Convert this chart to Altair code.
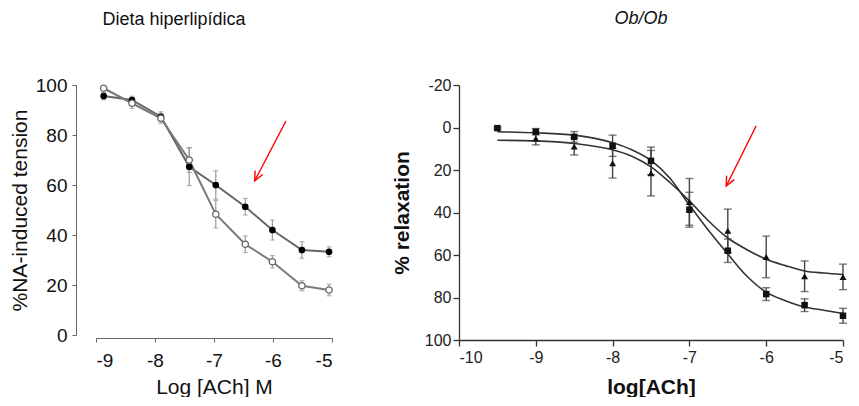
import altair as alt
import pandas as pd

FONT = "Liberation Sans"

# ---------------- Left panel: Dieta hiperlipídica ----------------
left_x = [-8.87, -8.39, -7.90, -7.42, -6.97, -6.47, -6.01, -5.51, -5.05]
left_filled = [95.6, 94.0, 87.3, 67.3, 60.0, 51.3, 42.0, 34.0, 33.3]
left_filled_err = [1.5, 1.5, 2.0, 7.5, 5.7, 3.3, 4.0, 3.3, 2.0]
left_open = [98.7, 92.7, 86.7, 70.0, 48.3, 36.3, 29.3, 19.7, 18.0]
left_open_err = [1.0, 2.0, 2.0, 5.0, 5.5, 3.3, 2.5, 2.0, 2.3]
left_xticks = [-9, -8, -7, -6, -5]
left_yticks = [0, 20, 40, 60, 80, 100]
left_arrow_x = [-5.78, -6.31]   # tail, head
left_arrow_y = [85.6, 61.7]

# ---------------- Right panel: Ob/Ob ----------------
right_x = [-9.5, -9, -8.5, -8, -7.5, -7, -6.5, -6, -5.5, -5]
right_sq = [0.3, 2.0, 4.4, 8.6, 15.7, 38.7, 58.0, 78.4, 83.6, 88.6]
right_sq_err = [0.5, 1.5, 2.5, 5.0, 6.5, 8.2, 5.5, 3.0, 3.0, 3.5]
right_tri_x = [-9, -8.5, -8, -7.5, -7, -6.5, -6, -5.5, -5]
right_tri = [5.2, 8.9, 16.8, 21.5, 35.0, 48.6, 60.9, 70.0, 70.3]
right_tri_err = [3.0, 4.0, 7.0, 10.7, 11.0, 10.2, 9.8, 7.2, 6.0]
curve_x = [-9.5, -9, -8.5, -8, -7.75, -7.5, -7.25, -7, -6.75, -6.5, -6.25, -6, -5.75, -5.5, -5.25, -5]
curve_sq = [2.0, 2.5, 3.6, 7.2, 10.5, 15.5, 24.0, 36.5, 48.5, 59.5, 70.0, 77.5, 81.5, 84.5, 86.0, 87.5]
curve_tri = [6.0, 6.3, 7.5, 10.5, 13.5, 18.5, 26.0, 34.5, 44.0, 52.0, 57.5, 62.0, 65.0, 67.5, 68.5, 69.2]
right_xticks = [-10, -9, -8, -7, -6, -5]
right_yticks = [-20, 0, 20, 40, 60, 80, 100]
right_arrow_x = [-6.13, -6.52]
right_arrow_y = [-0.85, 27.5]

ARROW_HEAD = "M -0.42 -0.9 L 0 0 L 0.42 -0.9"


def err_df(xs, ys, es):
    return pd.DataFrame({"x": xs, "y": ys, "lo": [a - b for a, b in zip(ys, es)],
                         "hi": [a + b for a, b in zip(ys, es)]})


# ---- left chart scales / axes ----
lxs = alt.Scale(domain=[-9, -5], nice=False, zero=False)
lys = alt.Scale(domain=[0, 100], nice=False, zero=False)
lxaxis = alt.Axis(values=left_xticks, offset=3, title="Log [ACh] M", labelExpr="'' + datum.value",
                  labelFontSize=19, titleFontSize=21, titleFontWeight="normal", grid=False,
                  domainColor="#666", tickColor="#666", tickSize=4, labelPadding=9, titlePadding=6,
                  labelColor="#111", titleColor="#111")
lyaxis = alt.Axis(values=left_yticks, offset=20, title="%NA-induced tension",
                  labelFontSize=19, titleFontSize=21, titleFontWeight="normal", grid=False,
                  domainColor="#666", tickColor="#666", tickSize=4, labelPadding=5, titlePadding=5,
                  labelColor="#111", titleColor="#111")


def LX(f="x"):
    return alt.X(f + ":Q", scale=lxs, axis=lxaxis)


def LY(f):
    return alt.Y(f + ":Q", scale=lys, axis=lyaxis)


# ---- right chart scales / axes ----
rxs = alt.Scale(domain=[-10, -5], nice=False, zero=False)
rys = alt.Scale(domain=[-20, 100], nice=False, zero=False, reverse=True)
rxaxis = alt.Axis(values=right_xticks, title="log[ACh]", labelExpr="'' + datum.value",
                  labelFontSize=16, titleFontSize=21, titleFontWeight="bold", grid=False,
                  domainColor="#333", tickColor="#333", tickSize=6, domainWidth=1.3, tickWidth=1.3,
                  labelPadding=3, titlePadding=11, labelColor="#222", titleColor="#111")
ryaxis = alt.Axis(values=right_yticks, title="% relaxation", labelExpr="'' + datum.value",
                  labelFontSize=16, titleFontSize=21, titleFontWeight="bold", grid=False,
                  domainColor="#333", tickColor="#333", tickSize=6, domainWidth=1.3, tickWidth=1.3,
                  labelPadding=2, titlePadding=12, labelColor="#222", titleColor="#111")


def RX(f="x"):
    return alt.X(f + ":Q", scale=rxs, axis=rxaxis)


def RY(f):
    return alt.Y(f + ":Q", scale=rys, axis=ryaxis)


def arrow_layers(xs, ys, X, Y, angle):
    seg = pd.DataFrame({"x": [xs[0]], "y": [ys[0]], "x2": [xs[1]], "y2": [ys[1]]})
    head = pd.DataFrame({"x": [xs[1]], "y": [ys[1]]})
    line = alt.Chart(seg).mark_rule(color="red", strokeWidth=1.4).encode(
        x=X("x"), y=Y("y"), x2="x2:Q", y2="y2:Q")
    tip = alt.Chart(head).mark_point(shape=ARROW_HEAD, size=420, color="red", filled=False,
                                      strokeWidth=1.4, angle=angle, opacity=1).encode(
        x=X("x"), y=Y("y"))
    return [line, tip]


# ---- left chart ----
df_lf = err_df(left_x, left_filled, left_filled_err)
df_lo = err_df(left_x, left_open, left_open_err)

l_err_f = alt.Chart(df_lf).mark_errorbar(ticks={"size": 5}, color="#999", thickness=1.2).encode(
    x=LX(), y=LY("lo"), y2="hi:Q")
l_err_o = alt.Chart(df_lo).mark_errorbar(ticks={"size": 5}, color="#999", thickness=1.2).encode(
    x=LX(), y=LY("lo"), y2="hi:Q")
l_line_f = alt.Chart(df_lf).mark_line(color="#666", strokeWidth=2).encode(x=LX(), y=LY("y"))
l_line_o = alt.Chart(df_lo).mark_line(color="#7a7a7a", strokeWidth=2).encode(x=LX(), y=LY("y"))
l_pt_f = alt.Chart(df_lf).mark_point(shape="circle", filled=True, color="black", size=45,
                                     opacity=1).encode(x=LX(), y=LY("y"))
l_pt_o = alt.Chart(df_lo).mark_point(shape="circle", filled=True, fill="white", stroke="#666",
                                     strokeWidth=1.3, size=40, opacity=1).encode(x=LX(), y=LY("y"))

left = alt.layer(l_err_f, l_err_o, l_line_f, l_line_o, l_pt_f, l_pt_o,
                 *arrow_layers(left_arrow_x, left_arrow_y, LX, LY, 27.4)).properties(
    width=236, height=250,
    title=alt.Title("Dieta hiperlipídica", fontSize=18, font=FONT, fontWeight="normal",
                    anchor="middle", frame="group", dx=-40, offset=47, color="#111"))

# ---- right chart ----
df_rs = err_df(right_x, right_sq, right_sq_err)
df_rt = err_df(right_tri_x, right_tri, right_tri_err)
df_curve = pd.DataFrame({"x": curve_x, "sq": curve_sq, "tri": curve_tri})

r_err_s = alt.Chart(df_rs).mark_errorbar(ticks={"size": 8}, color="#444", thickness=1.4).encode(
    x=RX(), y=RY("lo"), y2="hi:Q")
r_err_t = alt.Chart(df_rt).mark_errorbar(ticks={"size": 8}, color="#444", thickness=1.4).encode(
    x=RX(), y=RY("lo"), y2="hi:Q")
r_curve_s = alt.Chart(df_curve).mark_line(color="#333", strokeWidth=1.6,
                                          interpolate="monotone").encode(x=RX(), y=RY("sq"))
r_curve_t = alt.Chart(df_curve).mark_line(color="#333", strokeWidth=1.6,
                                          interpolate="monotone").encode(x=RX(), y=RY("tri"))
r_pt_s = alt.Chart(df_rs).mark_point(shape="square", filled=True, color="#111", size=42,
                                     opacity=1).encode(x=RX(), y=RY("y"))
r_pt_t = alt.Chart(df_rt).mark_point(shape="triangle-up", filled=True, color="#111", size=48,
                                     opacity=1).encode(x=RX(), y=RY("y"))

right = alt.layer(r_err_s, r_err_t, r_curve_s, r_curve_t, r_pt_s, r_pt_t,
                  *arrow_layers(right_arrow_x, right_arrow_y, RX, RY, 26.7)).properties(
    width=384, height=255,
    title=alt.Title("Ob/Ob", fontSize=18, font=FONT, fontWeight="normal", fontStyle="italic",
                    anchor="middle", frame="group", dx=-10, offset=49, color="#111"))

chart = alt.hconcat(left, right, spacing=56).properties(
    padding={"left": 1, "top": 2, "right": 0, "bottom": 0}
).configure(font=FONT).configure_view(stroke=None).configure_axis(
    labelFont=FONT, titleFont=FONT)

chart.save("out.html", embed_options={"renderer": "svg", "actions": False})
